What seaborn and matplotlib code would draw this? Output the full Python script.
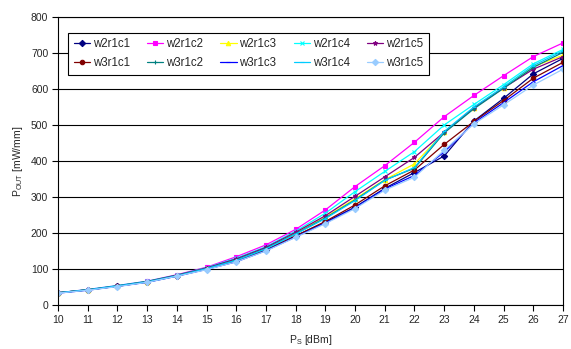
import matplotlib
matplotlib.use("Agg")
import matplotlib.pyplot as plt
import seaborn as sns
import pandas as pd
import numpy as np

ps = list(range(10, 28))

w2r1c1 = [34, 42, 52, 64, 81, 100, 122, 153, 192, 230, 272, 324, 368, 414, 511, 574, 642, 685]
w2r1c2 = [34, 43, 54, 66, 84, 105, 134, 167, 210, 264, 329, 387, 452, 523, 582, 637, 690, 728]
w2r1c3 = [34, 42, 53, 65, 82, 102, 126, 158, 200, 244, 295, 348, 392, 480, 548, 604, 662, 694]
w2r1c4 = [34, 43, 54, 66, 83, 104, 130, 162, 205, 255, 315, 371, 426, 500, 557, 612, 670, 710]
w2r1c5 = [34, 42, 53, 65, 83, 103, 128, 160, 202, 248, 302, 356, 410, 480, 548, 603, 655, 690]
w3r1c1 = [34, 42, 52, 64, 81, 100, 122, 153, 192, 232, 278, 331, 375, 446, 510, 568, 630, 674]
w3r1c2 = [34, 42, 53, 65, 82, 101, 125, 157, 198, 242, 292, 347, 380, 478, 545, 602, 660, 702]
w3r1c3 = [33, 41, 52, 63, 80, 99, 120, 151, 189, 228, 270, 322, 360, 425, 506, 562, 620, 665]
w3r1c4 = [34, 42, 53, 64, 81, 101, 124, 156, 197, 240, 290, 346, 382, 482, 550, 606, 665, 706]
w3r1c5 = [33, 41, 51, 63, 80, 98, 120, 150, 188, 226, 268, 319, 355, 430, 503, 556, 611, 655]

series_names = ["w2r1c1", "w2r1c2", "w2r1c3", "w2r1c4", "w2r1c5",
                "w3r1c1", "w3r1c2", "w3r1c3", "w3r1c4", "w3r1c5"]
series_vals = [w2r1c1, w2r1c2, w2r1c3, w2r1c4, w2r1c5,
               w3r1c1, w3r1c2, w3r1c3, w3r1c4, w3r1c5]
colors = ["#000080", "#FF00FF", "#FFFF00", "#00FFFF", "#800080",
          "#800000", "#008080", "#0000FF", "#00CCFF", "#99CCFF"]
markers = ["D", "s", "^", "x", "*", "o", "+", "_", "_", "D"]

rows = []
for n, v in zip(series_names, series_vals):
    for x, y in zip(ps, v):
        rows.append({"Ps": x, "Pout": y, "series": n})
df = pd.DataFrame(rows)

sns.set_theme(style="white")
plt.rcParams["font.family"] = ["Liberation Sans", "DejaVu Sans"]

fig = plt.figure(figsize=(5.71, 3.49), dpi=100)
ax = fig.add_axes([58/571, 44/349, 505/571, 288/349])

for n, c, m in zip(series_names, colors, markers):
    sub = df[df["series"] == n]
    sns.lineplot(data=sub, x="Ps", y="Pout", ax=ax, color=c, marker=m,
                 markersize=3.2, markeredgecolor=c, markerfacecolor=c,
                 markeredgewidth=0.8, linewidth=0.9, label=n)

ax.set_xlim(10, 27)
ax.set_ylim(0, 800)
ax.set_xticks(ps)
ax.set_yticks(range(0, 801, 100))
ax.tick_params(axis="both", labelsize=7.5, direction="out", length=4,
               width=0.8, color="black", bottom=True, left=True, pad=3)
ax.yaxis.grid(True, color="#000000", linewidth=0.8)
ax.xaxis.grid(False)
for s in ax.spines.values():
    s.set_color("black")
    s.set_linewidth(0.8)

ax.set_xlabel("P$_\\mathregular{S}$ [dBm]", fontsize=7.5, labelpad=6)
ax.set_ylabel("P$_\\mathregular{OUT}$ [mW/mm]", fontsize=7.5, labelpad=4)

handles, labels = ax.get_legend_handles_labels()
order = []
for i in range(5):
    order += [i, i + 5]
leg = ax.legend([handles[i] for i in order], [labels[i] for i in order],
                ncol=5, loc="upper left", bbox_to_anchor=(0.0198, 0.9455),
                fontsize=8.3, frameon=True, fancybox=False, framealpha=1,
                edgecolor="black", handlelength=1.4, handletextpad=0.25,
                columnspacing=1.5, borderpad=0.5, labelspacing=0.6,
                borderaxespad=0.0)
leg.get_frame().set_linewidth(0.8)

fig.savefig("out.png", dpi=100)
